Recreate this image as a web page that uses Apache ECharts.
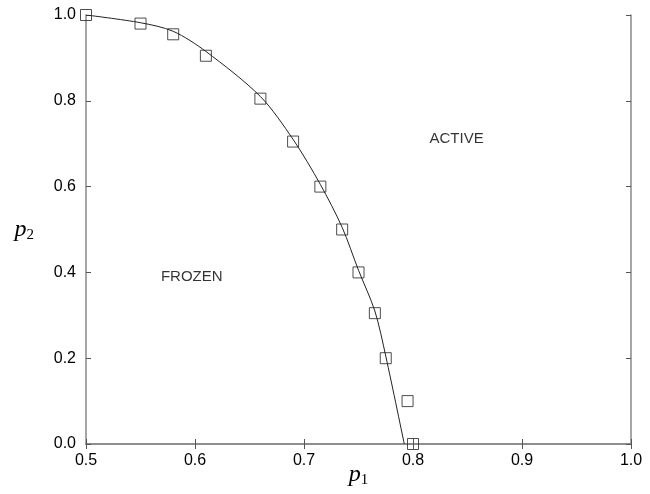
<!DOCTYPE html>
<html>
<head>
<meta charset="utf-8">
<script src="https://cdn.jsdelivr.net/npm/echarts@6/dist/echarts.min.js"></script>
<style>
  html, body { margin: 0; padding: 0; background: #fff; }
  #chart { width: 650px; height: 494px; }
</style>
</head>
<body>
<div id="chart"></div>
<script>
// measured points (squares)
var pointP1 = [0.5, 0.55, 0.58, 0.61, 0.66, 0.69, 0.715, 0.735, 0.75, 0.765, 0.775, 0.795, 0.80]
var pointP2 = [1.0, 0.98, 0.955, 0.905, 0.805, 0.705, 0.60, 0.50, 0.40, 0.305, 0.20, 0.10, 0.0]
// theory curve
var lineP1 = [0.5, 0.55, 0.58, 0.61, 0.66, 0.69, 0.715, 0.735, 0.75, 0.765, 0.775, 0.792]
var lineP2 = [1.0, 0.982, 0.962, 0.915, 0.81, 0.71, 0.605, 0.505, 0.405, 0.31, 0.205, 0.0]
// region labels
var regionNames = ['ACTIVE', 'FROZEN']
var regionP1 = [0.84, 0.597]
var regionP2 = [0.712, 0.39]

var zip = function (a, b) { return a.map(function (v, i) { return [v, b[i]] }) }

var tickFont = { fontFamily: 'Liberation Sans', fontSize: 16, color: '#000' }
var axisLine = { lineStyle: { color: '#888', width: 1.5 } }
var tickIn = { inside: true, length: 5, lineStyle: { color: '#555' } }
var nameRich = {
  i: { fontFamily: 'Liberation Serif', fontStyle: 'italic', fontSize: 24, color: '#000' },
  s: { fontFamily: 'Liberation Serif', fontSize: 15, color: '#000', padding: [12, 0, 0, 0] }
}

var myChart = echarts.init(document.getElementById('chart'))
myChart.setOption({
  animation: false,
  grid: { left: 86, right: 19, top: 15, bottom: 50, containLabel: false, outerBoundsMode: 'none' },
  xAxis: [{
    type: 'value', min: 0.5, max: 1.0, interval: 0.1,
    axisLine: axisLine, axisTick: tickIn, splitLine: { show: false },
    axisLabel: Object.assign({ margin: 9, formatter: function (v) { return v.toFixed(1) } }, tickFont),
    name: '{i|p}{s|1}', nameLocation: 'middle', nameGap: 17, nameMoveOverlap: false,
    nameTextStyle: { rich: nameRich }
  }, {
    type: 'value', min: 0.5, max: 1.0, interval: 0.1, position: 'top',
    axisLine: axisLine, axisTick: tickIn, axisLabel: { show: false }, splitLine: { show: false }
  }],
  yAxis: [{
    type: 'value', min: 0, max: 1.0, interval: 0.2,
    axisLine: axisLine, axisTick: tickIn, splitLine: { show: false },
    axisLabel: Object.assign({ margin: 10, formatter: function (v) { return v.toFixed(1) } }, tickFont),
    name: '{i|p}{s|2}', nameLocation: 'middle', nameGap: 52, nameRotate: 0, nameMoveOverlap: false,
    nameTextStyle: { rich: nameRich }
  }, {
    type: 'value', min: 0, max: 1.0, interval: 0.2, position: 'right',
    axisLine: axisLine, axisTick: tickIn, axisLabel: { show: false }, splitLine: { show: false }
  }],
  series: [{
    type: 'line', data: zip(lineP1, lineP2), smooth: 0.3, symbol: 'none',
    lineStyle: { color: '#222', width: 1 }
  }, {
    type: 'scatter', data: zip(pointP1, pointP2), symbol: 'rect', symbolSize: 11,
    itemStyle: { color: 'rgba(255,255,255,0)', borderColor: '#222', borderWidth: 1 }
  }, {
    type: 'scatter', symbolSize: 0,
    data: regionNames.map(function (n, i) { return { name: n, value: [regionP1[i], regionP2[i]] } }),
    label: { show: true, position: 'inside', formatter: '{b}', fontFamily: 'Liberation Sans', fontSize: 15, color: '#000' }
  }]
})
</script>
</body>
</html>
